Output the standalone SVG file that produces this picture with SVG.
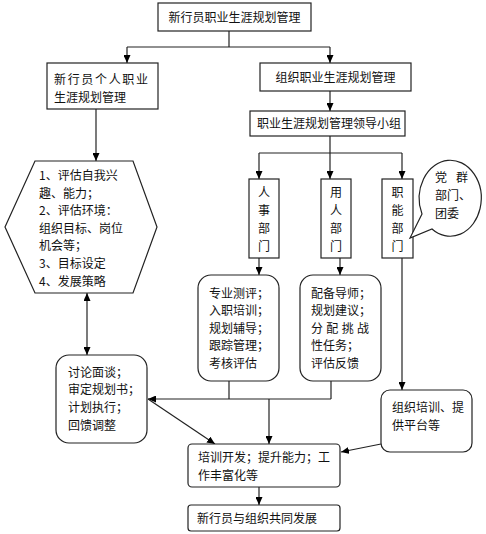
<svg xmlns="http://www.w3.org/2000/svg" width="486" height="534" viewBox="0 0 486 534">
<defs>
<marker id="ah" markerWidth="8" markerHeight="7" refX="8" refY="3.5" orient="auto" markerUnits="userSpaceOnUse"><path d="M0,0 L8,3.5 L0,7 z" fill="#000"/></marker>
<marker id="ahs" markerWidth="8" markerHeight="7" refX="0" refY="3.5" orient="auto" markerUnits="userSpaceOnUse"><path d="M8,0 L0,3.5 L8,7 z" fill="#000"/></marker>
<style>
.b{fill:#fff;stroke:#222;stroke-width:1.2}
.t{font-family:"Noto Sans CJK SC","Liberation Sans",sans-serif;font-size:12px;fill:#111}
.c{stroke:#222;stroke-width:1.2;fill:none}
.a{marker-end:url(#ah)}
</style>
</defs>
<rect width="486" height="534" fill="#fff"/>
<g id="connectors">
<path class="c" d="M229,31 V47 M127,47 H330"/>
<path class="c a" d="M127,47 V63"/>
<path class="c a" d="M330,47 V63"/>
<path class="c a" d="M330,91 V111"/>
<path class="c a" d="M96,109 V161"/>
<path class="c" d="M330,136 V153 M259,153 H402"/>
<path class="c a" d="M259,153 V179"/>
<path class="c a" d="M330,153 V179"/>
<path class="c a" d="M402,153 V179"/>
<path class="c a" d="M259,258 V275"/>
<path class="c a" d="M340,258 V275"/>
<path class="c a" d="M87,355 V293" style="marker-start:url(#ahs)"/>
<path class="c" d="M229,381 V399 M331,381 V399"/>
<path class="c a" d="M331,399 H148"/>
<path class="c a" d="M269,399 V444"/>
<path class="c a" d="M148,399 L215,444"/>
<path class="c a" d="M402,258 V390"/>
<path class="c a" d="M381,444 L341,452"/>
<path class="c a" d="M259,487 V505"/>
</g>
<g id="n_top"><rect class="b" x="158" y="3" width="153" height="28"/><text class="t" x="234.5" y="21.5" text-anchor="middle">新行员职业生涯规划管理</text></g>
<g id="n_personal"><rect class="b" x="47" y="63" width="111" height="46"/><text class="t" x="54" y="84" textLength="94" lengthAdjust="spacing">新行员个人职业</text><text class="t" x="54" y="102">生涯规划管理</text></g>
<g id="n_org"><rect class="b" x="260" y="63" width="151" height="28"/><text class="t" x="335.5" y="81.5" text-anchor="middle">组织职业生涯规划管理</text></g>
<g id="n_lead"><rect class="b" x="250" y="111" width="155" height="25"/><text class="t" x="257" y="128">职业生涯规划管理领导小组</text></g>
<g id="n_hex"><polygon class="b" points="35,161 133,161 157,227 133,293 35,293 5,227"/>
<text class="t" x="39" y="180">1、评估自我兴</text>
<text class="t" x="39" y="197.5">趣、能力；</text>
<text class="t" x="39" y="215">2、评估环境：</text>
<text class="t" x="39" y="232.5">组织目标、岗位</text>
<text class="t" x="39" y="250">机会等；</text>
<text class="t" x="39" y="268">3、目标设定</text>
<text class="t" x="39" y="285.5">4、发展策略</text>
</g>
<g id="n_hr"><rect class="b" x="249" y="179" width="30" height="79"/>
<text class="t" x="264" y="196.5" text-anchor="middle">人</text><text class="t" x="264" y="214.5" text-anchor="middle">事</text><text class="t" x="264" y="232.5" text-anchor="middle">部</text><text class="t" x="264" y="250.5" text-anchor="middle">门</text></g>
<g id="n_user"><rect class="b" x="321" y="179" width="30" height="79"/>
<text class="t" x="336" y="196.5" text-anchor="middle">用</text><text class="t" x="336" y="214.5" text-anchor="middle">人</text><text class="t" x="336" y="232.5" text-anchor="middle">部</text><text class="t" x="336" y="250.5" text-anchor="middle">门</text></g>
<g id="n_func"><rect class="b" x="382" y="179" width="31" height="79"/>
<text class="t" x="397.5" y="196.5" text-anchor="middle">职</text><text class="t" x="397.5" y="214.5" text-anchor="middle">能</text><text class="t" x="397.5" y="232.5" text-anchor="middle">部</text><text class="t" x="397.5" y="250.5" text-anchor="middle">门</text></g>
<g id="n_party"><path class="b" d="M422,214 A31,38 0 1 1 432,229 L410,238 Z"/>
<text class="t" x="435" y="182" textLength="33" lengthAdjust="spacing">党 群</text>
<text class="t" x="435" y="200">部门、</text>
<text class="t" x="435" y="218">团委</text></g>
<g id="n_hrtasks"><rect class="b" x="198" y="275" width="81" height="106" rx="13"/>
<text class="t" x="209" y="297.5">专业测评；</text><text class="t" x="209" y="315">入职培训；</text><text class="t" x="209" y="332.5">规划辅导；</text><text class="t" x="209" y="350">跟踪管理；</text><text class="t" x="209" y="367.5">考核评估</text></g>
<g id="n_usertasks"><rect class="b" x="300" y="275" width="81" height="106" rx="13"/>
<text class="t" x="311" y="297.5">配备导师；</text><text class="t" x="311" y="315">规划建议；</text><text class="t" x="311" y="332.5" textLength="58" lengthAdjust="spacing">分配挑战</text><text class="t" x="311" y="350">性任务；</text><text class="t" x="311" y="367.5">评估反馈</text></g>
<g id="n_discuss"><rect class="b" x="56" y="355" width="91" height="88" rx="13"/>
<text class="t" x="68" y="376.5">讨论面谈；</text><text class="t" x="68" y="394">审定规划书；</text><text class="t" x="68" y="411.5">计划执行；</text><text class="t" x="68" y="429.5">回馈调整</text></g>
<g id="n_platform"><rect class="b" x="381" y="390" width="91" height="62" rx="9"/>
<text class="t" x="392" y="411.5">组织培训、提</text><text class="t" x="392" y="429.5">供平台等</text></g>
<g id="n_train"><rect class="b" x="188" y="444" width="152" height="43" rx="4"/>
<text class="t" x="198" y="462">培训开发；提升能力；工</text><text class="t" x="198" y="480">作丰富化等</text></g>
<g id="n_final"><rect class="b" x="188" y="505" width="152" height="26" rx="3"/>
<text class="t" x="197" y="523">新行员与组织共同发展</text></g>
</svg>
